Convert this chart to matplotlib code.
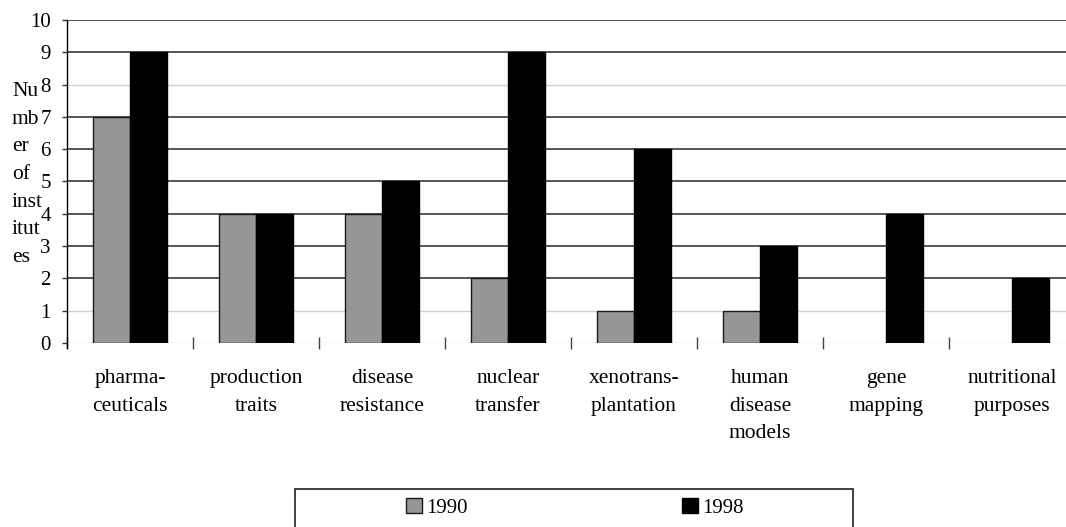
import matplotlib
matplotlib.use("Agg")
import matplotlib.pyplot as plt
from matplotlib.patches import Rectangle
import numpy as np

plt.rcParams['font.family'] = ['Liberation Serif', 'DejaVu Serif']

categories = ["pharma-\nceuticals", "production\ntraits", "disease\nresistance",
              "nuclear\ntransfer", "xenotrans-\nplantation", "human\ndisease\nmodels",
              "gene\nmapping", "nutritional\npurposes"]
values_1990 = [7, 4, 4, 2, 1, 1, 0, 0]
values_1998 = [9, 4, 5, 9, 6, 3, 4, 2]
series_labels = ["1990", "1998"]
y_ticks = list(range(0, 11))

W, H = 1066, 527
fig = plt.figure(figsize=(W / 100, H / 100), dpi=100)
ax = fig.add_axes([67 / W, 184 / H, 1008 / W, 323 / H])

x = np.arange(len(categories))
bw = 0.293
lw1 = [1.0 if v > 0 else 0 for v in values_1990]
b1 = ax.bar(x - bw, values_1990, width=bw, align='edge', color='#969696',
            edgecolor='#1a1a1a', linewidth=lw1, zorder=3, label=series_labels[0])
b2 = ax.bar(x, values_1998, width=bw, align='edge', color='black',
            edgecolor='black', linewidth=1.0, zorder=3, label=series_labels[1])

ax.set_xlim(-0.5, len(categories) - 0.5)
ax.set_ylim(0, 10)

# horizontal gridlines
light = {0, 1, 8}
for v in y_ticks:
    if v in light:
        ax.axhline(v, color='#d0d0d0', lw=1.0, zorder=1)
    else:
        ax.axhline(v, color='#555555', lw=1.4, zorder=1)

for s in ['top', 'right', 'bottom']:
    ax.spines[s].set_visible(False)
ax.spines['left'].set_color('black')
ax.spines['left'].set_linewidth(1.0)
ax.spines['left'].set_bounds(-0.15, 10)

ax.set_yticks(y_ticks)
ax.tick_params(axis='y', direction='out', length=3.6, width=1.0, color='#333333',
               labelsize=15, pad=8)
ax.set_xticks(np.arange(len(categories) + 1) - 0.5)
ax.set_xticklabels([])
ax.tick_params(axis='x', direction='inout', length=8, width=1.0, color='#444444')

for i, lab in enumerate(categories):
    ax.text(i, -0.8, lab, ha='center', va='top', fontsize=15.5, linespacing=1.62)

fig.text(12 / W, 1 - 82 / H, "Nu\nmb\ner\nof\ninst\nitut\nes", ha='left', va='top',
         fontsize=15.5, linespacing=1.62)

# legend box
fig.patches.append(Rectangle((295 / W, -0.05), (853 - 295) / W, 0.05 + (H - 489) / H,
                             transform=fig.transFigure, fill=False,
                             edgecolor='#333333', linewidth=1.3))
fig.legend(handles=[b1, b2], labels=series_labels, loc='center left',
           bbox_to_anchor=(406 / W, 1 - 508 / H), ncol=2, frameon=False,
           fontsize=15, handlelength=0.75, handleheight=0.75, handletextpad=0.22,
           columnspacing=10.3, borderpad=0, borderaxespad=0)

fig.savefig("out.png", dpi=100)
